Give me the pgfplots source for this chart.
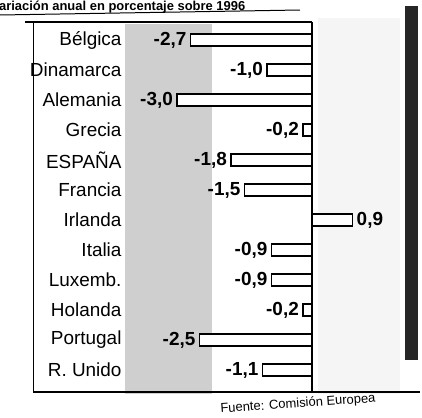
\documentclass[border=0pt]{standalone}
\usepackage{pgfplots}
\pgfplotsset{compat=1.18}
\usepackage{fontspec}
\setmainfont{Liberation Sans}
\begin{document}
\begin{tikzpicture}[x=1bp,y=1bp]
\useasboundingbox (0,0) rectangle (422,418);
% halftone band and dark strip (decoration)
\fill[gray!38] (125,24) rectangle (212,394);
\fill[gray!8] (318,24) rectangle (400,400);
\fill[black!85] (405,58) rectangle (418,412);
% title
\node[anchor=north west, font=\bfseries\fontsize{13}{14}\selectfont, inner sep=0pt] at (-9,417) {Variación anual en porcentaje sobre 1996};
\draw[line width=1pt] (0,403) -- (300,408);
\begin{axis}[
  at={(25bp,26bp)}, anchor=south west,
  scale only axis, width=395bp, height=370bp,
  xbar, bar width=12bp,
  xmin=-6.38, xmax=2.4,
  ymin=-0.6, ymax=11.73, y dir=reverse,
  axis line style={draw=none},
  xtick=\empty,
  ytick={0,...,11},
  yticklabels={Bélgica,Dinamarca,Alemania,Grecia,ESPAÑA,Francia,Irlanda,Italia,Luxemb.,Holanda,Portugal,R. Unido},
  major tick length=0pt,
  yticklabel style={anchor=east, xshift=100bp, font=\fontsize{19}{21}\selectfont},
  nodes near coords,
  point meta=x,
  every node near coord/.append style={font=\bfseries\fontsize{19}{21}\selectfont, text=black},
  /pgf/number format/.cd, fixed, fixed zerofill, precision=1, use comma, assume math mode=true,
  /pgfplots/.cd,
  clip=false,
]
\addplot[draw=black, line width=1.8pt, fill=white] coordinates {
  (-2.7,0) (-1.0,1) (-3.0,2) (-0.2,3) (-1.8,4) (-1.5,5)
  (0.9,6) (-0.9,7) (-0.9,8) (-0.2,9) (-2.5,10) (-1.1,11)
};
\draw[line width=1.4pt] (axis cs:0,-0.6) -- (axis cs:0,11.73);
\draw[line width=1.2pt] (axis cs:-6.38,-0.6) -- (axis cs:0,-0.6);
\draw[line width=1.2pt] (axis cs:-6.2,-0.6) -- (axis cs:-6.2,11.73);
\draw[line width=1.2pt] (axis cs:-6.2,11.73) -- (axis cs:2.4,11.73);
\end{axis}
\node[font=\fontsize{13}{14}\selectfont, rotate=4] at (298,14) {Fuente: Comisión Europea};
\end{tikzpicture}
\end{document}
